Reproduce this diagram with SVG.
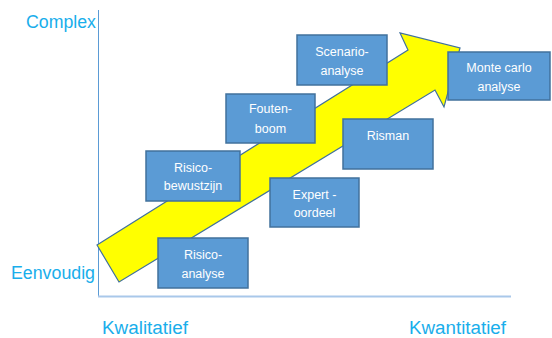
<svg xmlns="http://www.w3.org/2000/svg" width="552" height="338" viewBox="0 0 552 338">
<style>
.box{fill:#5B9BD5;stroke:#41719C;stroke-width:1.5}
.bt{font-family:"Liberation Sans",Arial,sans-serif;font-size:12.5px;fill:#FFFFFF;text-anchor:middle}
.ax{font-family:"Liberation Sans",Arial,sans-serif;font-size:18px;fill:#19AEEB}
</style>
<rect width="552" height="338" fill="#FFFFFF"/>
<g id="axes">
<line x1="98.5" y1="10" x2="98.5" y2="296" stroke="#5B9BD5" stroke-width="1"/>
<line x1="98" y1="296.5" x2="511" y2="296.5" stroke="#A9C8EA" stroke-width="2"/>
</g>
<g id="labels">
<text class="ax" x="26" y="28" textLength="70" lengthAdjust="spacingAndGlyphs">Complex</text>
<text class="ax" x="11" y="279" textLength="84" lengthAdjust="spacingAndGlyphs">Eenvoudig</text>
<text class="ax" x="102" y="334" textLength="86" lengthAdjust="spacingAndGlyphs">Kwalitatief</text>
<text class="ax" x="409" y="334" textLength="97" lengthAdjust="spacingAndGlyphs">Kwantitatief</text>
</g>
<g id="connectors">
<polygon id="arrow" points="97,245 408,50 400,33 460,48 444,107 435,90 119,282" fill="#FFFF00" stroke="#41719C" stroke-width="1.2" stroke-linejoin="miter"/>
</g>
<g id="risico-bewustzijn">
<rect class="box" x="146" y="151" width="94" height="50"/>
<text class="bt" x="193" y="172">Risico-</text>
<text class="bt" x="193" y="190">bewustzijn</text>
</g>
<g id="risico-analyse">
<rect class="box" x="158" y="238" width="90" height="50"/>
<text class="bt" x="203" y="259">Risico-</text>
<text class="bt" x="203" y="278">analyse</text>
</g>
<g id="fouten-boom">
<rect class="box" x="226" y="94" width="89" height="49"/>
<text class="bt" x="270.5" y="113">Fouten-</text>
<text class="bt" x="270.5" y="133">boom</text>
</g>
<g id="scenario-analyse">
<rect class="box" x="297" y="35" width="90" height="50"/>
<text class="bt" x="342" y="56">Scenario-</text>
<text class="bt" x="342" y="75">analyse</text>
</g>
<g id="monte-carlo">
<rect class="box" x="448" y="52" width="102" height="48"/>
<text class="bt" x="499" y="72">Monte carlo</text>
<text class="bt" x="499" y="91">analyse</text>
</g>
<g id="risman">
<rect class="box" x="343" y="119" width="90" height="50"/>
<text class="bt" x="388" y="140">Risman</text>
</g>
<g id="expert-oordeel">
<rect class="box" x="270" y="178" width="89" height="49"/>
<text class="bt" x="314.5" y="199">Expert -</text>
<text class="bt" x="314.5" y="217">oordeel</text>
</g>
</svg>
